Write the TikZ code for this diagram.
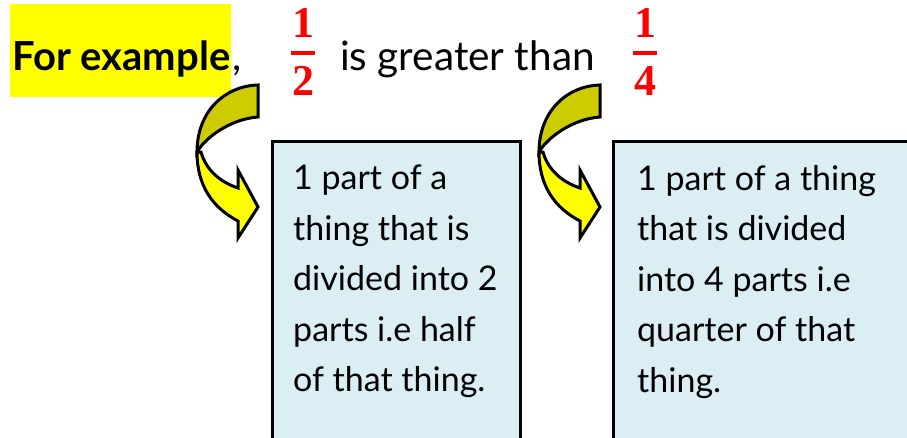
\documentclass[tikz,border=0pt]{standalone}
\usepackage{fontspec}
\setmainfont{Lato}
\newfontfamily\fracfont{Liberation Serif}
\definecolor{hlyellow}{RGB}{255,255,0}
\definecolor{darkyel}{RGB}{204,204,0}
\definecolor{liteyel}{RGB}{255,255,0}
\definecolor{boxblue}{RGB}{218,238,243}
\definecolor{fracred}{RGB}{255,0,0}
\begin{document}
\begin{tikzpicture}[x=1pt,y=-1pt,
  textbox/.style={draw=black,line width=3pt,fill=boxblue},
  boxtext/.style={anchor=north west,inner sep=0pt,align=left,font=\fontsize{34}{50.5}\selectfont},
  fracdigit/.style={inner sep=0pt,text=fracred,font=\fracfont\bfseries\fontsize{44}{46}\selectfont},
  fracbar/.style={draw=fracred,line width=4.5pt},
  curvarrow/.pic={
    \draw[line width=3pt,line join=miter,fill=darkyel]
      (258,85) .. controls (224,86) and (197,112) .. (197,152)
      .. controls (205,138) and (230,119) .. (258,117) -- cycle;
    \draw[line width=3pt,line join=miter,fill=liteyel]
      (197,152) .. controls (197,186) and (213,208) .. (238,221)
      -- (238,238) -- (258,207) -- (238,170) -- (238,188)
      .. controls (220,182) and (206,170) .. (201,152) -- cycle;
  }]
\useasboundingbox (0,0) rectangle (907,437);
% highlight
\fill[hlyellow] (10,4) rectangle (231,97);
\node[anchor=base west,inner sep=0pt,font=\bfseries\fontsize{40}{44}\selectfont] (forex) at (12,70) {For example};
\node[anchor=base west,inner sep=0pt,font=\fontsize{40}{44}\selectfont] (comma) at (232,70) {,};
\node[anchor=base west,inner sep=0pt,font=\fontsize{40.5}{44}\selectfont] (greater) at (340,70) {is greater than};
% fractions
\node[fracdigit,anchor=base] (n1) at (303,37) {1};
\draw[fracbar] (291,53) -- (315,53);
\node[fracdigit,anchor=base] (d1) at (303,95) {2};
\node[fracdigit,anchor=base] (n2) at (645,37) {1};
\draw[fracbar] (633,53) -- (657,53);
\node[fracdigit,anchor=base] (d2) at (645,95) {4};
% arrows
\pic at (0,0) {curvarrow};
\pic at (342,0) {curvarrow};
% boxes
\draw[textbox] (272,141) rectangle (520,450);
\draw[textbox] (613,141) rectangle (920,450);
\node[boxtext] (t1) at (293,165) {1 part of a\\thing that is\\divided into 2\\parts i.e half\\of that thing.};
\node[boxtext] (t2) at (637,165) {1 part of a thing\\that is divided\\into 4 parts i.e\\quarter of that\\thing.};
\end{tikzpicture}
\end{document}
